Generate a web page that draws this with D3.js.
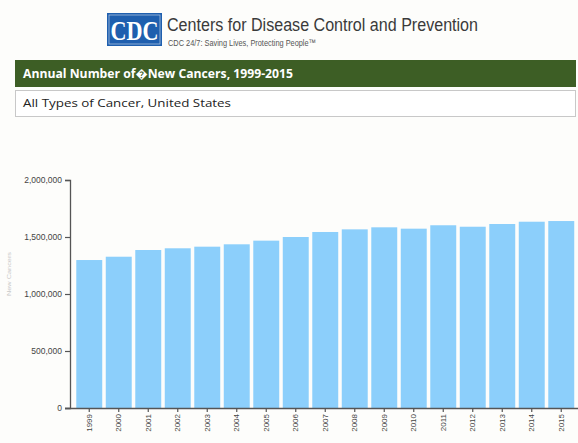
<!DOCTYPE html>
<html>
<head>
<meta charset="utf-8">
<script src="https://cdn.jsdelivr.net/npm/d3@7"></script>
<style>
  html, body { margin: 0; padding: 0; background: #fdfdfb; }
  svg { display: block; }
</style>
</head>
<body>
<svg id="chart" width="578" height="443"></svg>
<script>
// Annual new cancer cases, all types, United States
const years = ["1999","2000","2001","2002","2003","2004","2005","2006","2007","2008",
               "2009","2010","2011","2012","2013","2014","2015"];
const newCases = [1298000,1327000,1386000,1401000,1415000,1436000,1468000,1500000,1544000,1567000,
                  1585000,1573000,1603000,1590000,1614000,1634000,1640000];
const yTicks = [0, 500000, 1000000, 1500000, 2000000];

const svg = d3.select("#chart");
const W = 578, H = 443;

svg.append("rect").attr("width", W).attr("height", H).attr("fill", "#fdfdfb");

// ---- CDC header ----
const hdr = svg.append("g");
hdr.append("rect").attr("x", 107).attr("y", 13).attr("width", 55).attr("height", 33)
  .attr("fill", "#1f5fae");
hdr.append("rect").attr("x", 109).attr("y", 15).attr("width", 51).attr("height", 29)
  .attr("fill", "none").attr("stroke", "#ffffff").attr("stroke-width", 0.8).attr("opacity", 0.6);
hdr.append("text").attr("x", 134.5).attr("y", 40).attr("text-anchor", "middle")
  .attr("font-family", "Liberation Serif, DejaVu Serif, serif").attr("font-weight", "bold")
  .attr("font-size", 27).attr("fill", "#ffffff").attr("textLength", 48)
  .attr("lengthAdjust", "spacingAndGlyphs").text("CDC");
hdr.append("text").attr("x", 167).attr("y", 31)
  .attr("font-family", "Liberation Sans, Arial, sans-serif").attr("font-size", 17.5)
  .attr("fill", "#3a3a3a").attr("textLength", 311).attr("lengthAdjust", "spacingAndGlyphs")
  .text("Centers for Disease Control and Prevention");
hdr.append("text").attr("x", 168).attr("y", 46)
  .attr("font-family", "Liberation Sans, Arial, sans-serif").attr("font-size", 9.5)
  .attr("fill", "#555555").attr("textLength", 148).attr("lengthAdjust", "spacingAndGlyphs")
  .text("CDC 24/7: Saving Lives, Protecting People\u2122");

// ---- title bars ----
svg.append("rect").attr("x", 15).attr("y", 60).attr("width", 561).attr("height", 27)
  .attr("fill", "#3d5e25");
svg.append("text").attr("x", 23).attr("y", 78)
  .attr("font-family", "Open Sans, DejaVu Sans, sans-serif").attr("font-weight", "bold")
  .attr("font-size", 12).attr("fill", "#ffffff").attr("textLength", 270)
  .attr("lengthAdjust", "spacingAndGlyphs")
  .text("Annual Number of\uFFFDNew Cancers, 1999-2015");
svg.append("rect").attr("x", 15.5).attr("y", 90.5).attr("width", 560).attr("height", 26)
  .attr("fill", "#ffffff").attr("stroke", "#c8c8c8").attr("stroke-width", 1);
svg.append("text").attr("x", 23).attr("y", 107)
  .attr("font-family", "Open Sans, DejaVu Sans, sans-serif")
  .attr("font-size", 11.5).attr("fill", "#222222").attr("textLength", 208)
  .attr("lengthAdjust", "spacingAndGlyphs")
  .text("All Types of Cancer, United States");

// ---- chart ----
const y = d3.scaleLinear().domain([0, 2000000]).range([408, 180]);
const x = d3.scaleBand().domain(years).range([74.5, 576])
  .paddingInner(0.12).paddingOuter(0.06);

svg.append("g").selectAll("rect").data(years).join("rect")
  .attr("x", d => x(d))
  .attr("width", x.bandwidth())
  .attr("y", (d, i) => y(newCases[i]))
  .attr("height", (d, i) => y(0) - y(newCases[i]))
  .attr("fill", "#8ccffb");

// y axis
const yAxis = svg.append("g").attr("transform", "translate(70,0)")
  .call(d3.axisLeft(y).tickValues(yTicks).tickSize(5).tickPadding(3)
    .tickFormat(d3.format(",")));
yAxis.select(".domain").attr("stroke", "#555").attr("stroke-width", 1.3);
yAxis.selectAll(".tick line").attr("stroke", "#555").attr("stroke-width", 1.2);
yAxis.selectAll(".tick text").attr("fill", "#444")
  .attr("font-family", "Liberation Sans, Arial, sans-serif").attr("font-size", 8.5);

// x axis
const xAxis = svg.append("g").attr("transform", "translate(0,408)")
  .call(d3.axisBottom(x).tickSize(4).tickSizeOuter(0));
xAxis.select(".domain").attr("d", "M65,0.5H578").attr("stroke", "#555").attr("stroke-width", 1.3);
xAxis.selectAll(".tick line").attr("stroke", "#555").attr("stroke-width", 1.2);
xAxis.selectAll(".tick text")
  .attr("font-family", "Liberation Sans, Arial, sans-serif").attr("font-size", 8)
  .attr("fill", "#444")
  .attr("transform", "rotate(-90)")
  .attr("text-anchor", "end")
  .attr("x", -6).attr("y", 0).attr("dy", "0.32em");

// faint vertical axis title
svg.append("text")
  .attr("transform", "translate(11,296) rotate(-90)")
  .attr("font-family", "Liberation Sans, Arial, sans-serif").attr("font-size", 6)
  .attr("fill", "#c8c8c8").attr("textLength", 44).attr("lengthAdjust", "spacingAndGlyphs")
  .text("New Cancers");
</script>
</body>
</html>
